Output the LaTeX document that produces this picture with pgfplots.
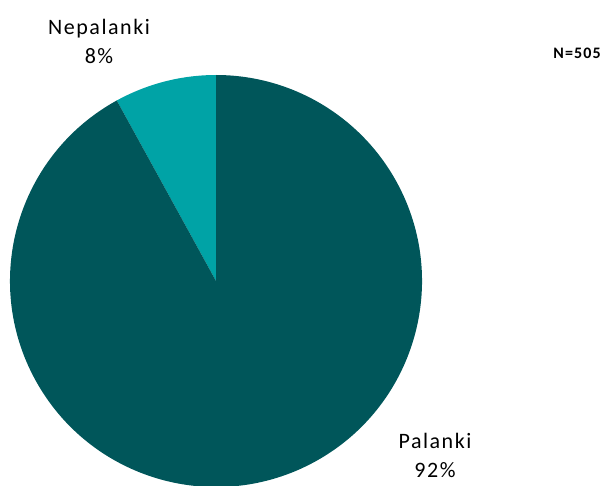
\documentclass[border=0pt]{standalone}
\usepackage{pgfplots}
\pgfplotsset{compat=1.18}
\usepackage{pgfplotstable}
\usepackage{fontspec}
\setmainfont{Carlito}
\newfontfamily\labelfont[LetterSpace=7]{Carlito}
\definecolor{darkteal}{HTML}{00565A}
\definecolor{lightteal}{HTML}{00A3A6}
\pgfplotstableread{
label value
Palanki 92
Nepalanki 8
}\piedata
\begin{document}
\begin{tikzpicture}
\pgfplotstablegetelem{0}{value}\of\piedata \let\vA\pgfplotsretval
\pgfplotstablegetelem{1}{value}\of\piedata \let\vB\pgfplotsretval
\pgfmathsetmacro\aB{90+3.6*\vB}
\begin{axis}[width=604pt,height=485pt,scale only axis,
  xmin=0,xmax=604,ymin=0,ymax=485,hide axis,clip=false]
\addplot[draw=none] coordinates {(0,0) (604,485)};
\fill[lightteal] (axis cs:216,204) -- (axis cs:216,410)
   arc[start angle=90,end angle=\aB,radius=206pt] -- cycle;
\fill[darkteal] (axis cs:216,204) -- ++(\aB:206pt)
   arc[start angle=\aB,end angle=450,radius=206pt] -- cycle;
\node[align=center,font=\labelfont\fontsize{22}{29}\selectfont] at (axis cs:99,444) {Nepalanki\\8\%};
\node[align=center,font=\labelfont\fontsize{22}{29}\selectfont] at (axis cs:435,30) {Palanki\\92\%};
\node[font=\labelfont\fontsize{16}{18}\selectfont\bfseries] at (axis cs:577,432) {N=505};
\end{axis}
\pgfresetboundingbox
\path[use as bounding box] (current axis.south west) rectangle (current axis.north east);
\end{tikzpicture}
\end{document}
